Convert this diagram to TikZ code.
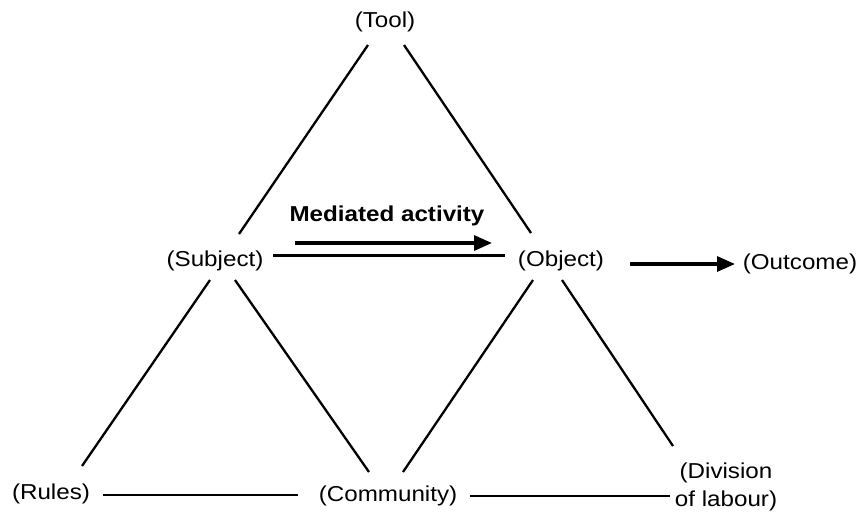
\documentclass[tikz,border=0pt]{standalone}
\usepackage{fontspec}
\setmainfont{Liberation Sans}[FakeStretch=1.12]
\usetikzlibrary{arrows.meta}
\begin{document}
\begin{tikzpicture}[x=0.5pt,y=-0.5pt,
  lbl/.style={inner sep=0pt, font=\fontsize{10.8}{14}\selectfont},
  link/.style={line width=1.15pt},
  flow/.style={line width=1.6pt, -{Triangle[length=9pt,width=7.5pt]}}]
\useasboundingbox (0,0) rectangle (864,516);

% activity system labels
\node[lbl] (tool)      at (385,22)  {(Tool)};
\node[lbl] (subject)   at (215,261) {(Subject)};
\node[lbl] (object)    at (561,261) {(Object)};
\node[lbl] (outcome)   at (800,264) {(Outcome)};
\node[lbl] (rules)     at (51,494)  {(Rules)};
\node[lbl] (community) at (388,496) {(Community)};
\node[lbl, align=center] (division) at (726,487) {(Division\\of labour)};
\node[lbl, font=\fontsize{10.8}{14}\selectfont\bfseries] (mediated) at (387,216) {Mediated activity};

% upper triangle
\draw[link] ([shift={(-17,23)}]tool.center) -- ([shift={(24,-27)}]subject.center);
\draw[link] ([shift={(19,23)}]tool.center) -- ([shift={(-30,-28)}]object.center);
\draw[link] ([shift={(58,-5.5)}]subject.center) -- ([shift={(-56,-5.5)}]object.center);

% lower triangles
\draw[link] ([shift={(-5,19)}]subject.center) -- ([shift={(31,-28)}]rules.center);
\draw[link] ([shift={(20,19)}]subject.center) -- ([shift={(-19,-24)}]community.center);
\draw[link] ([shift={(-28,19)}]object.center) -- ([shift={(15,-24)}]community.center);
\draw[link] ([shift={(1,19)}]object.center) -- ([shift={(-53,-41)}]division.center);

% base line
\draw[link] ([shift={(52,1)}]rules.center) -- ([shift={(-90,-1)}]community.center);
\draw[link] ([shift={(82,0)}]community.center) -- ([shift={(-56,9)}]division.center);

% arrows
\draw[flow] ([shift={(-92,27)}]mediated.center) -- ([shift={(105,27)}]mediated.center);
\draw[flow] ([shift={(69,3)}]object.center) -- ([shift={(-65,0)}]outcome.center);
\end{tikzpicture}
\end{document}
